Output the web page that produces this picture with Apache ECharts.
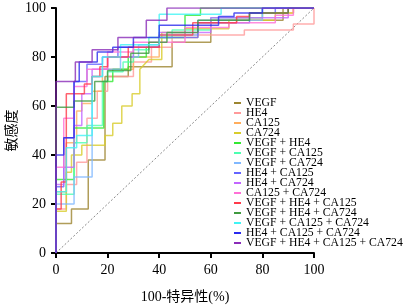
<!DOCTYPE html>
<html><head><meta charset="utf-8">
<script src="https://cdn.jsdelivr.net/npm/echarts@6/dist/echarts.min.js"></script>
<style>html,body{margin:0;padding:0;background:#fff}#c{width:405px;height:307px}</style>
</head><body><div id="c"></div>
<script>
var seriesNames = ['VEGF','HE4','CA125','CA724','VEGF + HE4','VEGF + CA125','VEGF + CA724','HE4 + CA125','HE4 + CA724','CA125 + CA724','VEGF + HE4 + CA125','VEGF + HE4 + CA724','VEGF + CA125 + CA724','HE4 + CA125 + CA724','VEGF + HE4 + CA125 + CA724'];
var xTicks = [0,20,40,60,80,100];
var yTicks = [0,20,40,60,80,100];
var diagonal = [[0,0],[100,100]];
var vegf = [[0,0],[0,12],[6,12],[6,18],[12.5,18],[12.5,38],[19,38],[19,47],[19,72],[28,72],[28,76],[45,76],[45,86],[60,86],[60,95],[88,95],[88,100],[100,100]];
var he4 = [[0,0],[0,18],[4,18],[4,28],[8,28],[8,37],[12,37],[12,55],[16,55],[16,66],[20,66],[20,72],[30,72],[30,78],[37,78],[37,84],[45,84],[45,89],[73,89],[73,91],[92,91],[92,93.5],[100,93.5],[100,100]];
var ca125 = [[0,0],[0,25],[4,25],[4,45],[8,45],[8,58],[10,58],[10,61],[14,61],[14,66],[18,66],[18,75],[30,75],[30,80],[40,80],[40,88],[55,88],[55,94],[70,94],[70,96],[80,96],[80,98],[92,98],[92,100],[100,100]];
var ca724 = [[0,0],[0,17],[4,17],[4,33],[6,33],[6,40],[10,40],[10,44],[19,44],[19,48],[22,48],[22,53],[25.5,53],[25.5,60],[29.5,60],[29.5,65],[32.5,65],[32.5,75],[36,79],[41,79],[41,90],[50,90],[50,91.5],[67,91.5],[67,95],[85,95],[85,98],[92,98],[92,100],[100,100]];
var vegfHe4 = [[0,0],[0,30],[7,30],[7,51],[18.5,51],[18.5,70],[22,70],[22,75],[28,75],[28,80],[35,80],[35,84],[40,84],[40,88],[50,88],[50,97],[56,97],[56,100],[100,100]];
var vegfCa125 = [[0,0],[0,24],[7,24],[7,45],[12,45],[12,52],[18,52],[18,70],[20,70],[20,74],[26,74],[26,78],[30,78],[30,83],[36,83],[36,88],[45,88],[45,91],[60,91],[60,96],[80,96],[80,100],[100,100]];
var vegfCa724 = [[0,0],[0,20],[7,20],[7,31],[14,31],[14,72],[18,72],[18,75],[25,75],[25,80],[32,80],[32,85],[40,85],[40,89],[55,89],[55,95],[80,95],[80,100],[100,100]];
var he4Ca125 = [[0,0],[0,27],[3,27],[3,47],[7,47],[7,70],[12,70],[12,77],[18,77],[18,80],[24,80],[24,84],[40,84],[40,88],[55,88],[55,94],[75,94],[75,98],[85,98],[85,100],[100,100]];
var he4Ca724 = [[0,0],[0,28],[3,28],[3,35],[7,35],[7,52],[10,52],[10,65],[14,65],[14,75],[20,75],[20,80],[30,80],[30,84],[40,84],[40,90],[60,90],[60,96],[90,96],[90,100],[100,100]];
var ca125Ca724 = [[0,0],[0,35],[3,35],[3,55],[7,55],[7,68],[12,68],[12,75],[20,75],[20,82],[30,82],[30,86],[50,86],[50,92],[67,92],[67,94],[85,94],[85,97],[92,97],[92,100],[100,100]];
var vegfHe4Ca125 = [[0,0],[0,18],[2,18],[2,29],[4,29],[4,65],[11,65],[11,69],[14,69],[14,72],[17,72],[17,76],[20,76],[20,80],[28,80],[28,84],[40,84],[40,89],[53,89],[53,94],[70,94],[70,96.5],[75,96.5],[75,98],[90,98],[90,100],[100,100]];
var vegfHe4Ca724 = [[0,0],[0,59.5],[7,59.5],[7,62],[15,62],[15,70],[20,70],[20,74.5],[29,74.5],[29,81.5],[36,81.5],[36,86],[43,86],[43,90],[55,90],[55,95],[75,95],[75,98],[90,98],[90,100],[100,100]];
var vegfCa125Ca724 = [[0,0],[0,25],[4,25],[4,43],[8,43],[8,48],[14,48],[14,72],[18,72],[18,80],[25,80],[25,85],[40,85],[40,97.5],[64,97.5],[64,100],[100,100]];
var he4Ca125Ca724 = [[0,0],[0,40],[3,40],[3,47],[7,47],[7,70],[9,70],[9,78],[16,78],[16,82],[22,82],[22,84],[30,84],[30,88],[40,88],[40,93],[63,93],[63,96.5],[69,96.5],[69,98],[80,98],[80,100],[100,100]];
var allFour = [[0,0],[0,70],[7.5,70],[7.5,78],[14,78],[14,83],[24,83],[24,88],[35,88],[35,95],[43,95],[43,100],[100,100]];

var seriesData = [vegf,he4,ca125,ca724,vegfHe4,vegfCa125,vegfCa724,he4Ca125,he4Ca724,ca125Ca724,vegfHe4Ca125,vegfHe4Ca724,vegfCa125Ca724,he4Ca125Ca724,allFour];
var colors = ['#9c8530','#ff9a9a','#ffad5c','#d8cc2c','#33e833','#4dffb0','#80b8ff','#6464ff','#c266ff','#ff70d6','#ff3a4a','#3f9a3f','#40f4f4','#2a2aee','#8a2cb8'];

var serif = '"Liberation Serif","Noto Sans CJK SC",serif';
var series = seriesNames.map(function(n,i){
  return {name:n,type:'line',data:seriesData[i],showSymbol:false,symbol:'none',silent:true,
    lineStyle:{color:colors[i],width:1.5,opacity:0.8},itemStyle:{color:colors[i]},z:3+i};
});
series.unshift({name:'diag',type:'line',data:diagonal,showSymbol:false,symbol:'none',silent:true,
  lineStyle:{color:'#888',width:1,type:[2,2]},z:2});

var axisCommon = {
  type:'value',min:0,max:100,interval:20,
  axisLine:{show:true,lineStyle:{color:'#000',width:2}},
  axisTick:{show:true,length:5,lineStyle:{color:'#000',width:2}},
  axisLabel:{color:'#000',fontSize:14,fontFamily:serif},
  splitLine:{show:false}
};
var chart = echarts.init(document.getElementById('c'),null,{renderer:'canvas'});
chart.setOption({
  animation:false,
  backgroundColor:'#fff',
  grid:{left:56,right:91,top:8,bottom:54,containLabel:false,outerBoundsMode:'none'},
  xAxis:Object.assign({},axisCommon,{name:'100-特异性(%)',nameLocation:'middle',nameGap:37,nameMoveOverlap:false,
    nameTextStyle:{color:'#000',fontSize:14,fontFamily:serif},
    axisLabel:Object.assign({},axisCommon.axisLabel,{margin:10,formatter:function(v){return xTicks.indexOf(v)>=0?String(v):'';}})}),
  yAxis:Object.assign({},axisCommon,{name:'敏感度',nameLocation:'middle',nameGap:37,nameRotate:90,nameMoveOverlap:false,
    nameTextStyle:{color:'#000',fontSize:14,fontFamily:serif},
    axisLabel:Object.assign({},axisCommon.axisLabel,{margin:10,formatter:function(v){return yTicks.indexOf(v)>=0?String(v):'';}})}),
  legend:{show:true,orient:'vertical',left:234,top:97,itemWidth:7,itemHeight:2,itemGap:-2,icon:'rect',padding:0,
    data:seriesNames,selectedMode:false,
    textStyle:{color:'#000',fontSize:11.7,fontFamily:serif,lineHeight:12,padding:[0,0,0,0]}},
  series:series
});
</script></body></html>
